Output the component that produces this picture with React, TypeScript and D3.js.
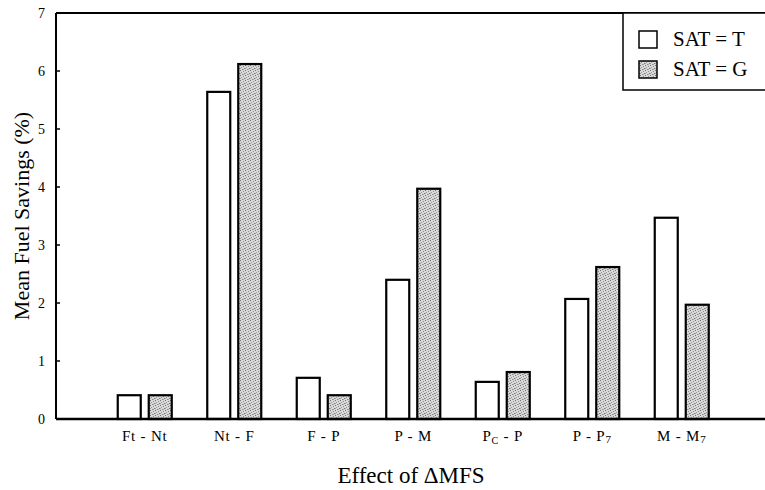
import React from "react";
import * as d3 from "d3";

const categories = ["Ft - Nt", "Nt - F", "F - P", "P - M", "PC - P", "P - P7", "M - M7"];
const satT = [0.41, 5.64, 0.71, 2.4, 0.64, 2.07, 3.47];
const satG = [0.41, 6.12, 0.41, 3.97, 0.81, 2.62, 1.97];
const yTicks = [0, 1, 2, 3, 4, 5, 6, 7];
const seriesNames = ["SAT = T", "SAT = G"];

const W = 765;
const H = 490;
const left = 56;
const top = 13;
const bottom = 419;
const right = 790;

const FONT = "'Liberation Serif', 'DejaVu Serif', 'Times New Roman', serif";

// Dot positions within one stipple tile
const stippleDots: [number, number, string][] = [
  [0, 0, "#707070"],
  [3, 1, "#8c8c8c"],
  [1, 2, "#999"],
  [4, 3, "#7a7a7a"],
  [2, 4, "#8a8a8a"],
  [0, 3, "#a5a5a5"],
  [3, 4, "#aaa"],
];

function CategoryLabel({ label }: { label: string }) {
  // Subscripted pieces: "PC" -> P with subscript C, "P7"/"M7" -> subscript 7
  if (label === "PC - P") {
    return (
      <>
        P<tspan fontSize={10} dy={3}>C</tspan>
        <tspan dy={-3}> - P</tspan>
      </>
    );
  }
  if (label === "P - P7") {
    return (
      <>
        P - P<tspan fontSize={11} dy={2}>7</tspan>
      </>
    );
  }
  if (label === "M - M7") {
    return (
      <>
        M - M<tspan fontSize={11} dy={2}>7</tspan>
      </>
    );
  }
  return <>{label}</>;
}

export default function App() {
  const x = d3.scaleBand<string>().domain(categories).range([100, 100 + 7 * 89.5]).padding(0);
  const y = d3.scaleLinear().domain([0, 7]).range([bottom, top]);
  const barW = 23;
  const gap = 8;

  return (
    <svg
      width={W}
      height={H}
      style={{ position: "absolute", left: 0, top: 0, background: "#fff", fontFamily: FONT }}
    >
      <defs>
        <pattern id="stipple" width={5} height={5} patternUnits="userSpaceOnUse">
          <rect width={5} height={5} fill="#d9d9d9" />
          {stippleDots.map(([px, py, col], k) => (
            <rect key={k} x={px} y={py} width={1} height={1} fill={col} />
          ))}
        </pattern>
      </defs>

      {/* bars */}
      {categories.map((c, i) => {
        const cx = (x(c) as number) + x.bandwidth() / 2;
        const xT = cx - gap / 2 - barW;
        const xG = cx + gap / 2;
        return (
          <g key={c}>
            <rect x={xT} y={y(satT[i])} width={barW} height={y(0) - y(satT[i])} fill="#fff" stroke="#000" strokeWidth={2.2} />
            <rect x={xG} y={y(satG[i])} width={barW} height={y(0) - y(satG[i])} fill="url(#stipple)" stroke="#000" strokeWidth={2.2} />
          </g>
        );
      })}

      {/* frame */}
      <line x1={left} x2={right} y1={top} y2={top} stroke="#000" strokeWidth={2} />
      <line x1={left} x2={right} y1={bottom} y2={bottom} stroke="#000" strokeWidth={2.4} />
      <line x1={left} x2={left} y1={top} y2={bottom} stroke="#000" strokeWidth={2} />

      {/* y ticks */}
      {yTicks.map((t) => (
        <g key={t}>
          <line x1={left} x2={left + 4} y1={y(t)} y2={y(t)} stroke="#000" strokeWidth={1.5} />
          <text x={45} y={y(t) + 5} textAnchor="end" fontSize={14}>
            {t}
          </text>
        </g>
      ))}

      {/* category labels */}
      {categories.map((c) => (
        <text
          key={c}
          x={(x(c) as number) + x.bandwidth() / 2}
          y={441}
          textAnchor="middle"
          fontSize={15}
          letterSpacing={0.8}
        >
          <CategoryLabel label={c} />
        </text>
      ))}

      {/* axis titles */}
      <text x={411} y={483} textAnchor="middle" fontSize={23}>
        Effect of ΔMFS
      </text>
      <text transform={`translate(29, 216) rotate(-90)`} textAnchor="middle" fontSize={22}>
        Mean Fuel Savings (%)
      </text>

      {/* legend */}
      <rect x={623} y={top} width={200} height={77} fill="#fff" stroke="#000" strokeWidth={1.5} />
      <rect x={639} y={31} width={18} height={17} fill="#fff" stroke="#000" strokeWidth={1.5} />
      <text x={673} y={46} fontSize={21}>{seriesNames[0]}</text>
      <rect x={639} y={61} width={18} height={17} fill="url(#stipple)" stroke="#000" strokeWidth={1.5} />
      <text x={673} y={76} fontSize={21}>{seriesNames[1]}</text>
    </svg>
  );
}
